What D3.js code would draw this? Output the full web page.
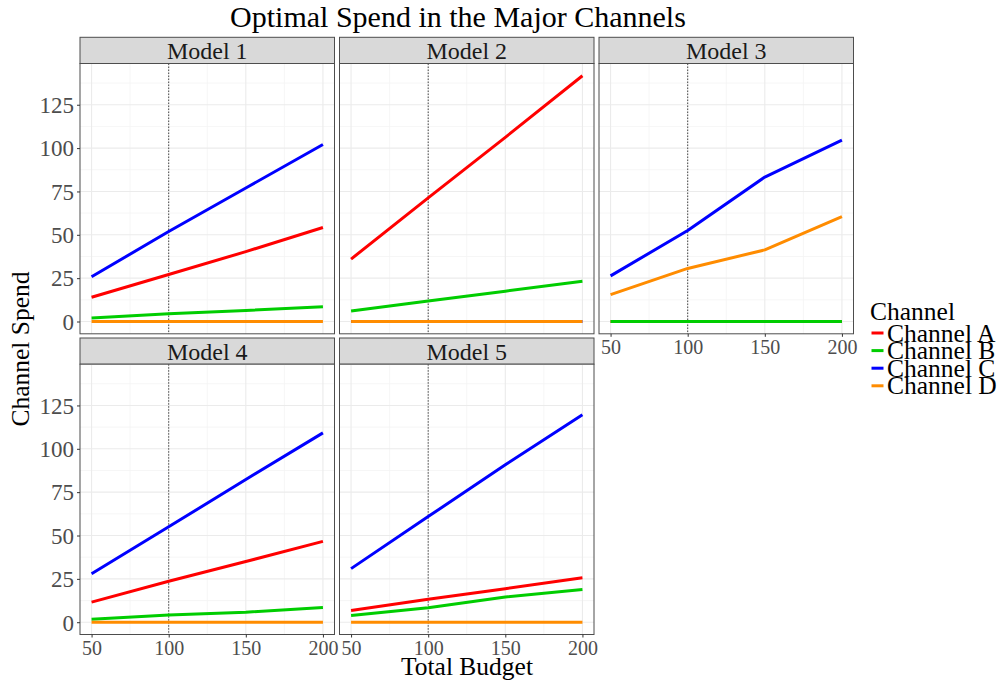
<!DOCTYPE html>
<html>
<head>
<meta charset="utf-8">
<script src="https://cdn.jsdelivr.net/npm/d3@7"></script>
<style>
  body { margin: 0; background: #fff; }
  svg { font-family: "Liberation Serif", "DejaVu Serif", serif; }
</style>
</head>
<body>
<div id="chart"></div>
<script>
// data
var budgets = [50, 100, 150, 200];
var models = ["Model 1", "Model 2", "Model 3", "Model 4", "Model 5"];
var channels = ["Channel A", "Channel B", "Channel C", "Channel D"];
var yTicks = [0, 25, 50, 75, 100, 125];
var xTicks = [50, 100, 150, 200];
var refBudget = 100;

var model1 = [
  [14, 27.1, 40.3, 54.2],
  [2, 4.5, 6.4, 8.5],
  [25.8, 51.9, 77, 102.1],
  [0, 0, 0, 0]
];
var model2 = [
  [36, 71.3, 106.2, 141.7],
  [6, 11.8, 17.5, 23.2],
  [0, 0, 0, 0],
  [0, 0, 0, 0]
];
var model3 = [
  [0, 0, 0, 0],
  [0, 0, 0, 0],
  [26.3, 52.5, 83.3, 104.6],
  [15.5, 30.6, 41.3, 60.5]
];
var model4 = [
  [11.6, 23.6, 35, 46.6],
  [1.7, 4.2, 5.8, 8.5],
  [28, 55, 82.3, 109.2],
  [0, 0, 0, 0]
];
var model5 = [
  [6.8, 13.3, 19.3, 25.7],
  [3.9, 8.3, 14.5, 18.9],
  [30.9, 60.9, 90.8, 119.6],
  [0, 0, 0, 0]
];
var spend = [model1, model2, model3, model4, model5];

var colors = ["#ff0000", "#00cd00", "#0000ff", "#ff8c00"];

var W = 997, H = 680;
var left = 80, top0 = 37.3;
var pw = 254.5, ph = 270.3, stripH = 26.2;
var colStep = 259.5, rowStep = 300.7;

var svg = d3.select("#chart").append("svg")
    .attr("width", W)
    .attr("height", H);

var allVals = [].concat.apply([], spend.map(function (m) { return [].concat.apply([], m); }));
var yMax = d3.max(allVals), yMin = 0;
var yPad = (yMax - yMin) * 0.05;
var xPad = (d3.max(budgets) - d3.min(budgets)) * 0.05;

var x = d3.scaleLinear()
    .domain([d3.min(budgets) - xPad, d3.max(budgets) + xPad])
    .range([0, pw]);
var y = d3.scaleLinear()
    .domain([yMin - yPad, yMax + yPad])
    .range([ph, 0]);

var line = d3.line()
    .x(function (d) { return x(d.b); })
    .y(function (d) { return y(d.v); });

var minorX = [75, 125, 175];
var minorY = [12.5, 37.5, 62.5, 87.5, 112.5, 137.5];

models.forEach(function (name, i) {
    var col = i % 3, row = Math.floor(i / 3);
    var gx = left + col * colStep, gy = top0 + row * rowStep;
    var g = svg.append("g").attr("transform", "translate(" + gx + "," + gy + ")");

    // strip
    g.append("rect")
        .attr("x", 0).attr("y", 0)
        .attr("width", pw).attr("height", stripH)
        .attr("fill", "#d9d9d9")
        .attr("stroke", "#4d4d4d")
        .attr("stroke-width", 1);
    g.append("text")
        .attr("x", pw / 2).attr("y", stripH - 4.5)
        .attr("text-anchor", "middle")
        .attr("font-size", 24)
        .attr("fill", "#1a1a1a")
        .text(name);

    var p = g.append("g").attr("transform", "translate(0," + stripH + ")");
    p.append("rect")
        .attr("width", pw).attr("height", ph)
        .attr("fill", "#fff");

    // grid
    p.selectAll(".minx").data(minorX).enter().append("line")
        .attr("x1", x).attr("x2", x).attr("y1", 0).attr("y2", ph)
        .attr("stroke", "#f4f4f4").attr("stroke-width", 0.8);
    p.selectAll(".miny").data(minorY).enter().append("line")
        .attr("y1", y).attr("y2", y).attr("x1", 0).attr("x2", pw)
        .attr("stroke", "#f4f4f4").attr("stroke-width", 0.8);
    p.selectAll(".majx").data(xTicks).enter().append("line")
        .attr("x1", x).attr("x2", x).attr("y1", 0).attr("y2", ph)
        .attr("stroke", "#ebebeb").attr("stroke-width", 1.1);
    p.selectAll(".majy").data(yTicks).enter().append("line")
        .attr("y1", y).attr("y2", y).attr("x1", 0).attr("x2", pw)
        .attr("stroke", "#ebebeb").attr("stroke-width", 1.1);

    // dotted reference line
    p.append("line")
        .attr("x1", x(refBudget)).attr("x2", x(refBudget))
        .attr("y1", 0).attr("y2", ph)
        .attr("stroke", "#000").attr("stroke-width", 0.7)
        .attr("stroke-dasharray", "1.5,1.5");

    // series
    spend[i].forEach(function (vals, c) {
        var pts = budgets.map(function (b, k) { return { b: b, v: vals[k] }; });
        p.append("path")
            .datum(pts)
            .attr("d", line)
            .attr("fill", "none")
            .attr("stroke", colors[c])
            .attr("stroke-width", 3)
            .attr("stroke-linejoin", "round");
    });

    p.append("rect")
        .attr("width", pw).attr("height", ph)
        .attr("fill", "none")
        .attr("stroke", "#4d4d4d")
        .attr("stroke-width", 1);

    if (col === 0) {
        var ya = p.append("g")
            .call(d3.axisLeft(y).tickValues(yTicks).tickSize(3).tickPadding(3));
        ya.select(".domain").remove();
        ya.selectAll("line").attr("stroke", "#333");
        ya.selectAll("text").attr("font-size", 23).attr("fill", "#4d4d4d")
            .attr("font-family", "Liberation Serif").attr("dy", "0.34em");
    }
    var lastInCol = (i + 3 >= models.length);
    if (lastInCol) {
        var xa = p.append("g")
            .attr("transform", "translate(0," + ph + ")")
            .call(d3.axisBottom(x).tickValues(xTicks).tickSize(3).tickPadding(2));
        xa.select(".domain").remove();
        xa.selectAll("line").attr("stroke", "#333");
        xa.selectAll("text").attr("font-size", 20).attr("fill", "#4d4d4d")
            .attr("font-family", "Liberation Serif").attr("dy", "0.78em");
    }
});

// titles
svg.append("text")
    .attr("x", 458).attr("y", 27)
    .attr("text-anchor", "middle")
    .attr("font-size", 30)
    .text("Optimal Spend in the Major Channels");

svg.append("text")
    .attr("x", 467).attr("y", 675)
    .attr("text-anchor", "middle")
    .attr("font-size", 25.5)
    .text("Total Budget");

svg.append("text")
    .attr("transform", "translate(29,349) rotate(-90)")
    .attr("text-anchor", "middle")
    .attr("font-size", 25.5)
    .text("Channel Spend");

// legend
var lg = svg.append("g").attr("transform", "translate(870,0)");
lg.append("text")
    .attr("x", 0).attr("y", 320)
    .attr("font-size", 25.5)
    .text("Channel");
var items = lg.selectAll(".item").data(channels).enter().append("g")
    .attr("transform", function (d, k) { return "translate(0," + (333 + k * 17.6) + ")"; });
items.append("line")
    .attr("x1", 1.5).attr("x2", 13.5)
    .attr("y1", 0).attr("y2", 0)
    .attr("stroke", function (d, k) { return colors[k]; })
    .attr("stroke-width", 3);
items.append("text")
    .attr("x", 17).attr("y", 8.5)
    .attr("font-size", 25.5)
    .text(function (d) { return d; });
</script>
</body>
</html>
